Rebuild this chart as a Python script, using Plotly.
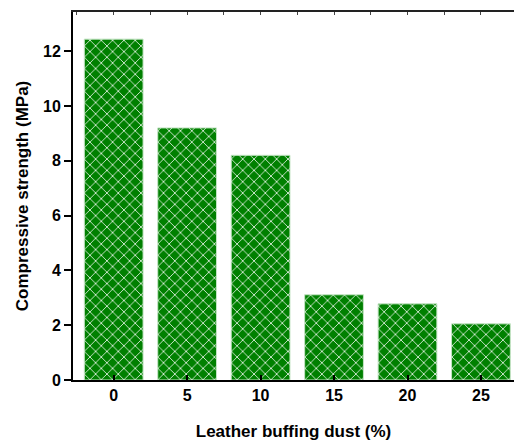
import plotly.graph_objects as go

dust = [0, 5, 10, 15, 20, 25]
strength = [12.44, 9.2, 8.2, 3.11, 2.78, 2.05]
y_ticks = [0, 2, 4, 6, 8, 10, 12]

x_range = [-2.77, 27.25]

fig = go.Figure()
fig.add_trace(go.Bar(
    x=dust, y=strength, width=4,
    marker=dict(
        color="#008000",
        line=dict(color="#c4e4c4", width=1),
        pattern=dict(shape="x", fgcolor="white", bgcolor="#008000", size=8, solidity=0.18, fillmode="replace"),
    ),
    showlegend=False,
))
# invisible trace so the top axis is drawn
fig.add_trace(go.Scatter(x=[dust[0]], y=[0], xaxis="x2", mode="markers",
                         marker=dict(opacity=0), showlegend=False, hoverinfo="skip"))

font = dict(family="Liberation Sans, Arial, sans-serif", color="black")
fig.update_layout(
    width=514, height=441,
    margin=dict(l=73, r=0, t=12, b=61),
    plot_bgcolor="white", paper_bgcolor="white",
    font=font,
    xaxis=dict(
        range=x_range, tickvals=dust, ticktext=[f"<b>{d}</b>" for d in dust],
        showline=True, linecolor="black", linewidth=2, mirror=False,
        ticks="inside", ticklen=5, tickwidth=2, tickcolor="black",
        showgrid=False, zeroline=False, automargin=False,
        tickfont=dict(size=16),
        title=dict(text="<b>Leather buffing dust (%)</b>", font=dict(size=17), standoff=22),
    ),
    xaxis2=dict(
        overlaying="x", side="top", range=x_range, dtick=2.5, tick0=0,
        showline=True, linecolor="#222", linewidth=2,
        ticks="inside", ticklen=3, tickwidth=1, tickcolor="#444",
        showticklabels=False, showgrid=False, zeroline=False, automargin=False,
    ),
    yaxis=dict(
        range=[0, 13.43], tickvals=y_ticks, ticktext=[f"<b>{v}</b>" for v in y_ticks],
        showline=True, linecolor="black", linewidth=2,
        ticks="outside", ticklen=7, tickwidth=2, tickcolor="black",
        showgrid=False, zeroline=False, automargin=False,
        tickfont=dict(size=16),
        title=dict(text="<b>Compressive strength (MPa)</b>", font=dict(size=17), standoff=10),
    ),
)
fig.write_html("out.html", config={"displayModeBar": False},
               post_script="document.body.style.margin='0';")
